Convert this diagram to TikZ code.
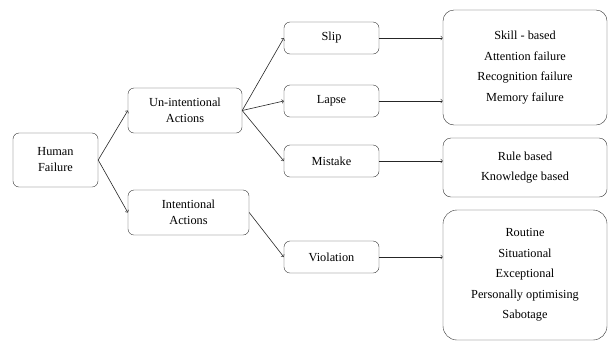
\documentclass[tikz,border=0pt]{standalone}
\usepackage{fontspec}
\setmainfont{Liberation Serif}
\usetikzlibrary{calc}
\begin{document}
\begin{tikzpicture}[x=1pt,y=-1pt,
    box/.style={draw=black!80, rounded corners=6pt, align=center, inner sep=0pt,
        font=\fontsize{12.3}{16}\selectfont},
    listbox/.style={draw=black!80, rounded corners=11pt, align=center, inner sep=0pt,
        minimum width=164pt, font=\fontsize{12.3}{20.5}\selectfont},
    link/.style={->, black!85, line width=0.6pt}]
    \useasboundingbox (0,0) rectangle (610,341);
    % first and second level
    \node[box, minimum width=85pt, minimum height=54pt] (hf) at (55.5,160) {Human\\Failure};
    \node[box, minimum width=114pt, minimum height=45pt] (un) at (185,110.5) {Un-intentional\\Actions};
    \node[box, minimum width=121pt, minimum height=45pt] (in) at (188.5,212.5) {Intentional\\Actions};
    % error types
    \node[box, minimum width=95pt, minimum height=32pt] (slip) at (331.5,38) {Slip};
    \node[box, minimum width=95pt, minimum height=32pt] (lapse) at (331.5,101) {Lapse};
    \node[box, minimum width=95pt, minimum height=32pt] (mistake) at (331.5,161) {Mistake};
    \node[box, minimum width=95pt, minimum height=32pt] (violation) at (331.5,257) {Violation};
    % lists
    \node[listbox, minimum height=115pt] (skill) at (525,67.5)
        {Skill - based\\Attention failure\\Recognition failure\\Memory failure};
    \node[listbox, minimum height=59pt, rounded corners=8pt] (rule) at (525,167.5)
        {Rule based\\Knowledge based};
    \node[listbox, minimum height=130pt, rounded corners=14pt] (viol) at (525,275)
        {Routine\\Situational\\Exceptional\\Personally optimising\\Sabotage};
    % connectors
    \draw[link] (hf.east) -- (un.west);
    \draw[link] (hf.east) -- (in.west);
    \draw[link] (un.east) -- (slip.west);
    \draw[link] (un.east) -- (lapse.west);
    \draw[link] (un.east) -- (mistake.west);
    \draw[link] (in.east) -- (violation.west);
    \draw[link] (slip.east) -- (slip.east -| skill.west);
    \draw[link] (lapse.east) -- (lapse.east -| skill.west);
    \draw[link] (mistake.east) -- (mistake.east -| rule.west);
    \draw[link] (violation.east) -- (violation.east -| viol.west);
\end{tikzpicture}
\end{document}
